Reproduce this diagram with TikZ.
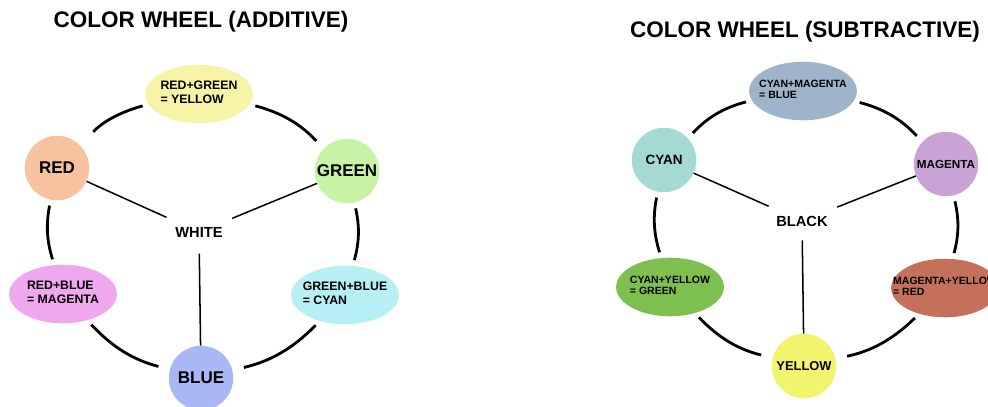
\documentclass[tikz,border=0pt]{standalone}
\usepackage{fontspec}
\setmainfont{Liberation Sans}
\usetikzlibrary{shapes.geometric, arrows, positioning}

% fills of the two wheels
\definecolor{addred}{HTML}{F8C29E}
\definecolor{addyellow}{HTML}{F7F4A8}
\definecolor{addgreen}{HTML}{C8F2A4}
\definecolor{addcyan}{HTML}{B6F0F4}
\definecolor{addblue}{HTML}{A9B7F5}
\definecolor{addmagenta}{HTML}{EFA8EE}
\definecolor{subcyan}{HTML}{A4D9D4}
\definecolor{subblue}{HTML}{9EB4CA}
\definecolor{submagenta}{HTML}{C9A3D6}
\definecolor{subred}{HTML}{C4705A}
\definecolor{subyellow}{HTML}{F3F46E}
\definecolor{subgreen}{HTML}{7EC050}

% two-line label of a mixed colour, kept out of the ellipse size
\newcommand{\mixlabel}[2]{\makebox[0pt]{\begin{tabular}{@{}l@{}}#1\\#2\end{tabular}}}

\begin{document}
\begin{tikzpicture}[x=0.03cm, y=-0.03cm, >=stealth, font=\bfseries]
    % Styles
    \tikzstyle{disc} = [circle, minimum size=55pt, inner sep=0pt]
    \tikzstyle{mix} = [ellipse, minimum width=92pt, minimum height=50pt, inner sep=0pt]
    \tikzstyle{title} = [font=\fontsize{19.2}{22}\selectfont\bfseries]
    \tikzstyle{centre} = [inner sep=8pt]
    \tikzstyle{ring} = [line width=2.4pt, shorten <=5pt, shorten >=5pt]
    \tikzstyle{spoke} = [line width=1.3pt]

    \useasboundingbox (0,0) rectangle (988,406);

    % Additive wheel
    \node[title] (addtitle) at (201,22) {COLOR WHEEL (ADDITIVE)};
    \node[disc, fill=addred, font=\fontsize{14.5}{16}\selectfont\bfseries] (red) at (57,168) {RED};
    \node[mix, fill=addyellow, font=\fontsize{10.5}{11.5}\selectfont\bfseries] (yellow) at (199,94) {\mixlabel{RED+GREEN}{= YELLOW}};
    \node[disc, fill=addgreen, font=\fontsize{14.5}{16}\selectfont\bfseries] (green) at (347,171) {GREEN};
    \node[mix, fill=addcyan, font=\fontsize{10.5}{11.5}\selectfont\bfseries] (cyan) at (345,295) {\mixlabel{GREEN+BLUE}{= CYAN}};
    \node[disc, fill=addblue, font=\fontsize{14.5}{16}\selectfont\bfseries] (blue) at (201,378) {BLUE};
    \node[mix, fill=addmagenta, font=\fontsize{10.5}{11.5}\selectfont\bfseries] (magenta) at (63,294) {\mixlabel{RED+BLUE}{= MAGENTA}};
    \node[centre, font=\fontsize{12.5}{14}\selectfont\bfseries] (white) at (199,232) {WHITE};

    \draw[ring, shorten <=16pt] (red) to[bend left=16] (yellow);
    \draw[ring, shorten >=9pt] (yellow) to[bend left=16] (green);
    \draw[ring] (green) to[bend left=14] (cyan);
    \draw[ring, shorten >=10pt] (cyan) to[bend left=16] (blue);
    \draw[ring, shorten <=10pt] (blue) to[bend left=16] (magenta);
    \draw[ring] (magenta) to[bend left=14] (red);
    \draw[spoke] (red) -- (white);
    \draw[spoke] (green) -- (white);
    \draw[spoke, shorten >=6pt] (blue) -- (white);

    % Subtractive wheel
    \node[title] (subtitle) at (805,32) {COLOR WHEEL (SUBTRACTIVE)};
    \node[disc, fill=subcyan, font=\fontsize{11.5}{13}\selectfont\bfseries] (scyan) at (664,160) {CYAN};
    \node[mix, fill=subblue, font=\fontsize{9}{9.5}\selectfont\bfseries] (sblue) at (803,91) {\mixlabel{CYAN+MAGENTA}{= BLUE}};
    \node[disc, fill=submagenta, font=\fontsize{10}{12}\selectfont\bfseries] (smagenta) at (946,164) {MAGENTA};
    \node[mix, fill=subred, font=\fontsize{9}{9.5}\selectfont\bfseries] (sred) at (945,288) {\mixlabel{MAGENTA+YELLOW}{= RED}};
    \node[disc, fill=subyellow, font=\fontsize{11}{13}\selectfont\bfseries] (syellow) at (804,366) {YELLOW};
    \node[mix, fill=subgreen, font=\fontsize{9}{9.5}\selectfont\bfseries] (sgreen) at (670,287) {\mixlabel{CYAN+YELLOW}{= GREEN}};
    \node[centre, font=\fontsize{12.5}{14}\selectfont\bfseries] (black) at (802,221) {BLACK};

    \draw[ring, shorten <=6pt] (scyan) to[bend left=16] (sblue);
    \draw[ring, shorten >=7pt] (sblue) to[bend left=16] (smagenta);
    \draw[ring] (smagenta) to[bend left=14] (sred);
    \draw[ring, shorten >=10pt] (sred) to[bend left=16] (syellow);
    \draw[ring, shorten <=10pt] (syellow) to[bend left=16] (sgreen);
    \draw[ring] (sgreen) to[bend left=14] (scyan);
    \draw[spoke] (scyan) -- (black);
    \draw[spoke] (smagenta) -- (black);
    \draw[spoke, shorten >=4pt] (syellow) -- (black);
\end{tikzpicture}
\end{document}
